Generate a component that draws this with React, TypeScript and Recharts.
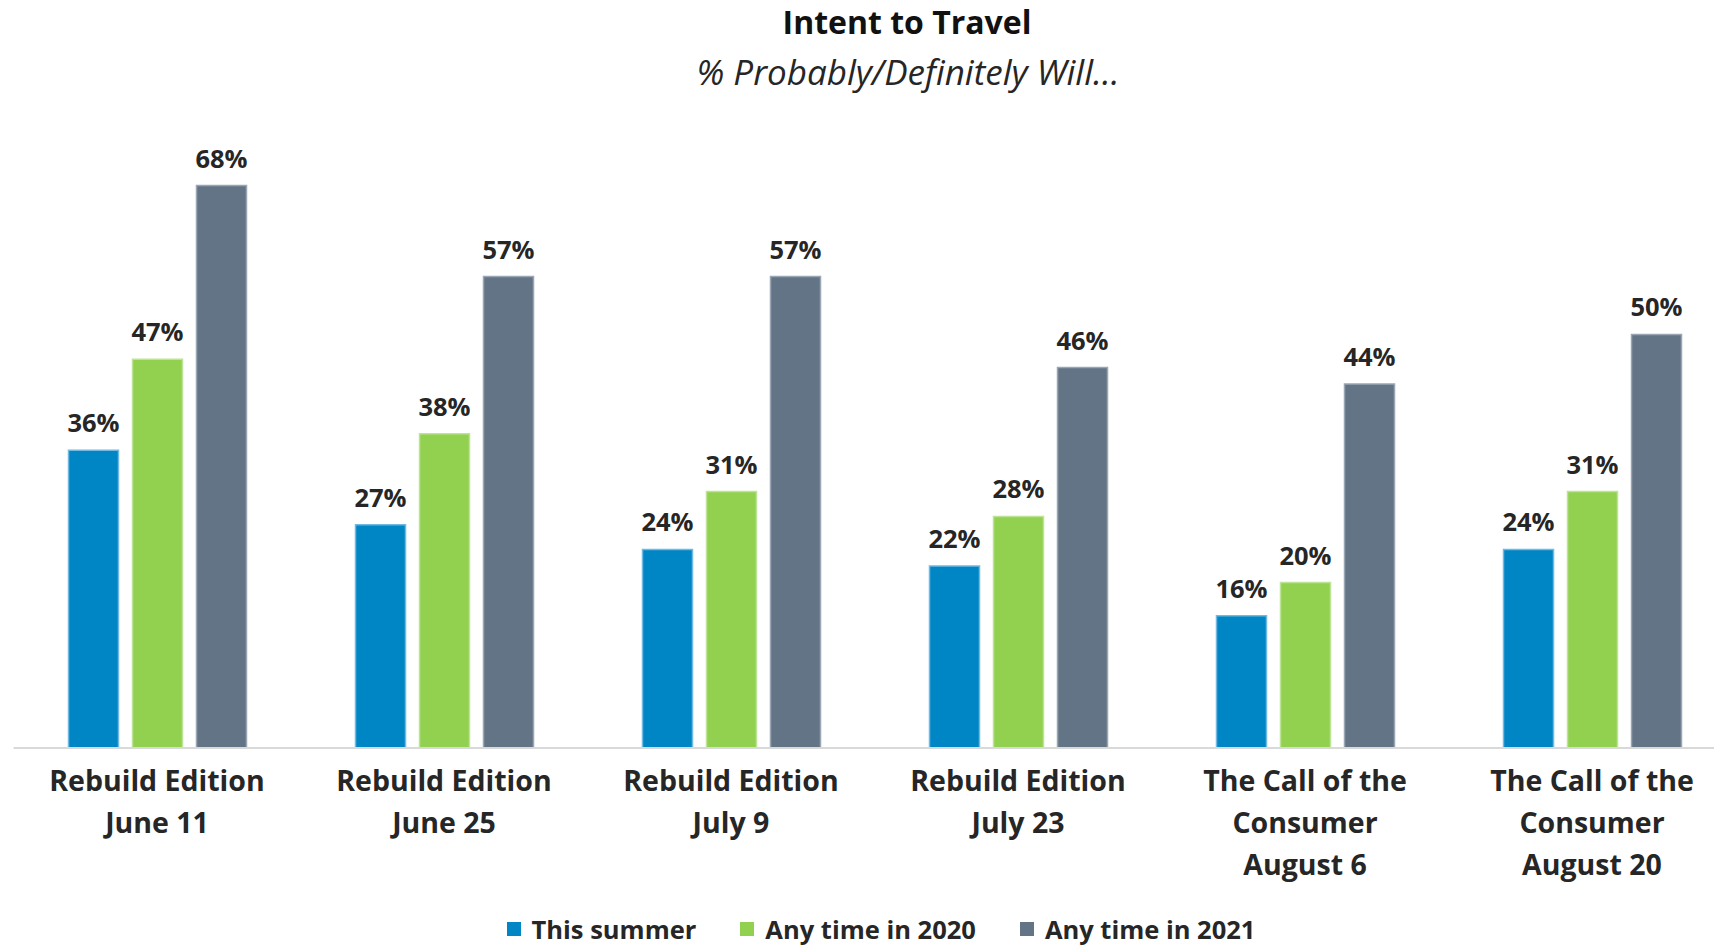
import { BarChart, Bar, XAxis, YAxis, LabelList, Legend } from 'recharts';

const categories = [
  'Rebuild Edition\nJune 11',
  'Rebuild Edition\nJune 25',
  'Rebuild Edition\nJuly 9',
  'Rebuild Edition\nJuly 23',
  'The Call of the\nConsumer\nAugust 6',
  'The Call of the\nConsumer\nAugust 20',
];
const thisSummer = [36, 27, 24, 22, 16, 24];
const anyTime2020 = [47, 38, 31, 28, 20, 31];
const anyTime2021 = [68, 57, 57, 46, 44, 50];

const seriesNames = ['This summer', 'Any time in 2020', 'Any time in 2021'];

const FONT = '"Open Sans", sans-serif';

const chartData = categories.map((c, i) => ({
  name: c,
  summer: thisSummer[i],
  y2020: anyTime2020[i],
  y2021: anyTime2021[i],
}));

const CategoryTick = (props: any) => {
  const { x, y, payload } = props;
  const lines = String(payload.value).split('\n');
  return (
    <text x={x} y={y + 35} textAnchor="middle" fill="#262626" fontFamily={FONT} fontWeight={700} fontSize={28.5}>
      {lines.map((l, i) => (
        <tspan key={i} x={x} dy={i === 0 ? 0 : 42}>
          {l}
        </tspan>
      ))}
    </text>
  );
};

const LegendContent = (props: any) => {
  // keep the series order, not the default alphabetical one
  const items = [...props.payload].sort(
    (a: any, b: any) => seriesNames.indexOf(a.value) - seriesNames.indexOf(b.value)
  );
  return (
    <div style={{ display: 'flex', justifyContent: 'center', gap: 44, fontFamily: FONT }}>
      {items.map((p: any) => (
        <div key={p.value} style={{ display: 'flex', alignItems: 'center' }}>
          <span style={{ width: 14, height: 14, background: p.color, display: 'inline-block', marginRight: 11 }} />
          <span style={{ fontSize: 25.5, fontWeight: 700, color: '#262626', lineHeight: '30px' }}>{p.value}</span>
        </div>
      ))}
    </div>
  );
};

const labelStyle = { fill: '#262626', fontFamily: FONT, fontWeight: 700, fontSize: 25.5 };
const fmt = (v: number) => `${v}%`;

export default function App() {
  return (
    <div style={{ position: 'fixed', left: 0, top: 0, width: 1714, height: 949, overflow: 'hidden', background: '#fff' }}>
      <div style={{ position: 'absolute', left: 607, width: 600, top: -1, textAlign: 'center', fontFamily: FONT, fontWeight: 700, fontSize: 32, color: '#111', lineHeight: '46px' }}>
        Intent to Travel
      </div>
      <div style={{ position: 'absolute', left: 558, width: 700, top: 48, textAlign: 'center', fontFamily: FONT, fontStyle: 'italic', fontSize: 35, color: '#262626', lineHeight: '48px' }}>
        % Probably/Definitely Will…
      </div>
      <BarChart
        width={1740}
        height={949}
        data={chartData}
        margin={{ top: 169, right: 4.5, bottom: 81, left: 13.5 }}
        barSize={50}
        barGap={14}
      >
        <XAxis
          dataKey="name"
          interval={0}
          tickLine={false}
          axisLine={{ stroke: '#d9d9d9', strokeWidth: 2 }}
          height={120}
          tick={<CategoryTick />}
        />
        <YAxis hide domain={[0, 70]} />
        <Legend
          verticalAlign="middle"
          align="center"
          content={<LegendContent />}
          wrapperStyle={{ top: 914, left: 0, width: 1762 }}
        />
        <Bar dataKey="summer" name={seriesNames[0]} fill="#0086C4" stroke="#6FB9E2" strokeWidth={1.5} isAnimationActive={false}>
          <LabelList dataKey="summer" position="top" offset={18} formatter={fmt} style={labelStyle} />
        </Bar>
        <Bar dataKey="y2020" name={seriesNames[1]} fill="#92D050" stroke="#BDE396" strokeWidth={1.5} isAnimationActive={false}>
          <LabelList dataKey="y2020" position="top" offset={18} formatter={fmt} style={labelStyle} />
        </Bar>
        <Bar dataKey="y2021" name={seriesNames[2]} fill="#647487" stroke="#9AA6B4" strokeWidth={1.5} isAnimationActive={false}>
          <LabelList dataKey="y2021" position="top" offset={18} formatter={fmt} style={labelStyle} />
        </Bar>
      </BarChart>
    </div>
  );
}
